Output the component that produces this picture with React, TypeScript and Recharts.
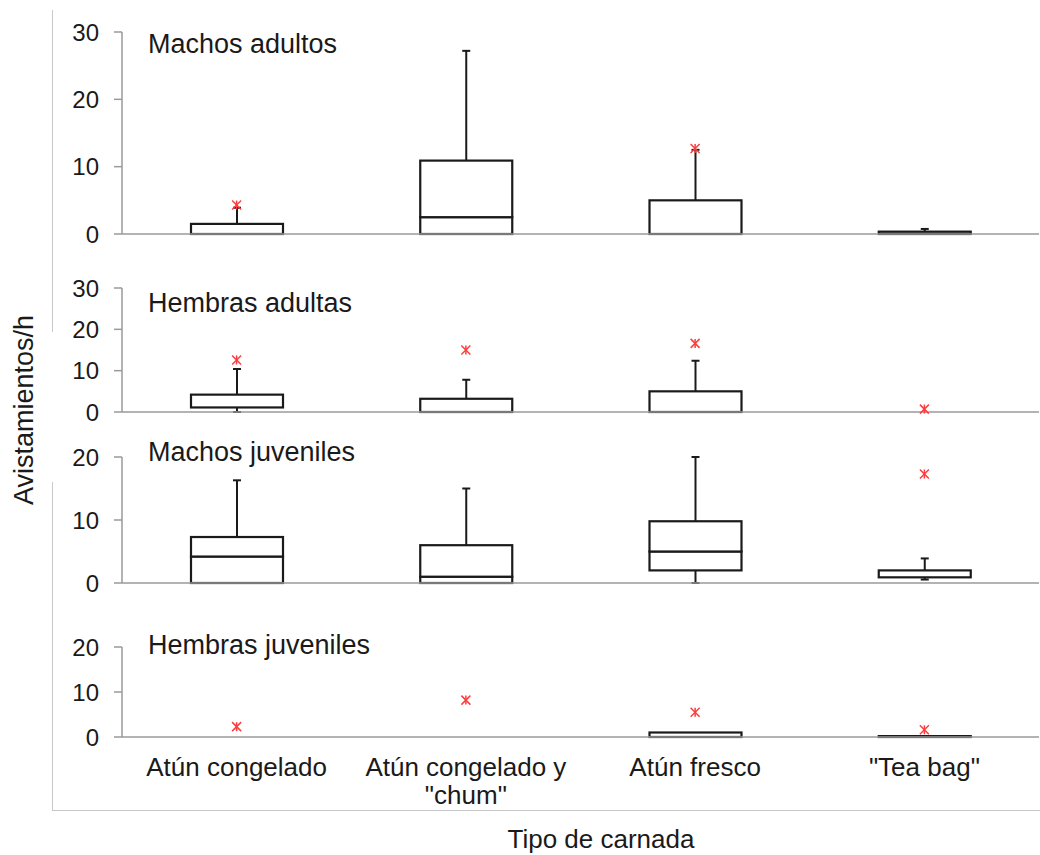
import React from "react"
import { ComposedChart, Bar, Line, XAxis, YAxis } from "recharts"

// bait types (x categories)
const categories = ["Atún congelado", 'Atún congelado y "chum"', "Atún fresco", '"Tea bag"']

// Machos adultos
const maMin = [0, 0, 0, 0]
const maQ1 = [0, 0, 0, 0]
const maMed = [0, 2.5, 0, 0]
const maQ3 = [1.5, 10.9, 5.0, 0.35]
const maMax = [3.9, 27.2, 12.5, 0.75]
const maOut = [4.3, null, 12.7, null]

// Hembras adultas
const haMin = [0, 0, 0, null]
const haQ1 = [1.1, 0, 0, null]
const haMed = [1.1, 0, 0, null]
const haQ3 = [4.2, 3.2, 5.0, null]
const haMax = [10.4, 7.8, 12.4, null]
const haOut = [12.6, 15.0, 16.6, 0.7]

// Machos juveniles
const mjMin = [0, 0, 0, 0.55]
const mjQ1 = [0, 0, 2.0, 0.9]
const mjMed = [4.2, 1.0, 5.0, 0.9]
const mjQ3 = [7.3, 6.0, 9.8, 2.0]
const mjMax = [16.3, 15.0, 20.0, 3.9]
const mjOut = [null, null, null, 17.3]

// Hembras juveniles
const hjMin = [null, null, 0, 0]
const hjQ1 = [null, null, 0, 0]
const hjMed = [null, null, 0, 0]
const hjQ3 = [null, null, 1.0, 0.2]
const hjMax = [null, null, 1.0, 0.2]
const hjOut = [2.3, 8.2, 5.5, 1.6]

const ticks30 = [0, 10, 20, 30]
const ticks20 = [0, 10, 20]

type N = number | null

// turn the five-number summaries into stacked segments
const buildRows = (mn: N[], q1: N[], md: N[], q3: N[], mx: N[], out: N[]) =>
  categories.map((cat, i) => {
    const has = mn[i] != null
    return {
      cat,
      has,
      base: has ? (mn[i] as number) : 0,
      lowW: has ? (q1[i] as number) - (mn[i] as number) : 0,
      boxLo: has ? (md[i] as number) - (q1[i] as number) : 0,
      boxHi: has ? (q3[i] as number) - (md[i] as number) : 0,
      highW: has ? (mx[i] as number) - (q3[i] as number) : 0,
      out: out[i],
    }
  })

const LINE = "#1a1a1a"
const AXIS = "#9a9a9a"
const FONT = "'Liberation Sans', Arial, sans-serif"

const Empty = () => <g />

const BoxShape = (props: any) => {
  const { x, y, width, height, payload } = props
  if (!payload || !payload.has) return <g />
  return (
    <rect x={x} y={y} width={width} height={Math.max(height, 0)} fill="#fff" stroke={LINE} strokeWidth={2.2} />
  )
}

const LowWhisker = (props: any) => {
  const { x, y, width, height, payload } = props
  if (!payload || !payload.has || !(height > 0)) return <g />
  const cx = x + width / 2
  return (
    <g stroke={LINE} strokeWidth={2}>
      <line x1={cx} x2={cx} y1={y} y2={y + height} />
      <line x1={cx - 4} x2={cx + 4} y1={y + height} y2={y + height} />
    </g>
  )
}

const HighWhisker = (props: any) => {
  const { x, y, width, height, payload } = props
  if (!payload || !payload.has || !(height > 0)) return <g />
  const cx = x + width / 2
  return (
    <g stroke={LINE} strokeWidth={2}>
      <line x1={cx} x2={cx} y1={y} y2={y + height} />
      <line x1={cx - 4} x2={cx + 4} y1={y} y2={y} />
    </g>
  )
}

const Star = (props: any) => {
  const { cx, cy, value, index } = props
  if (value == null || cy == null) return <g key={`s${index}`} />
  const r = 4.5
  return (
    <g key={`s${index}`} stroke="#ff3b3b" strokeWidth={1.5}>
      <line x1={cx - r} y1={cy - r} x2={cx + r} y2={cy + r} />
      <line x1={cx - r} y1={cy + r} x2={cx + r} y2={cy - r} />
      <line x1={cx} y1={cy - r} x2={cx} y2={cy + r} />
    </g>
  )
}

const CatTick = (props: any) => {
  const { x, y, payload } = props
  const v: string = payload.value
  const lines = v.endsWith('"chum"') ? ["Atún congelado y", '"chum"'] : [v]
  return (
    <text x={x} y={y} textAnchor="middle" fill="#1a1a1a" fontSize={26} fontFamily={FONT}>
      {lines.map((l, i) => (
        <tspan key={i} x={x} dy={i === 0 ? 39 : 28}>
          {l}
        </tspan>
      ))}
    </text>
  )
}

interface PanelProps {
  rows: ReturnType<typeof buildRows>
  top: number
  height: number
  mTop: number
  mBottom: number
  max: number
  ticks: number[]
  showX?: boolean
}

const Panel = ({ rows, top, height, mTop, mBottom, max, ticks, showX }: PanelProps) => (
  <div style={{ position: "absolute", left: 0, top, width: 1040, height }}>
    <ComposedChart
      width={1040}
      height={height}
      data={rows}
      margin={{ top: mTop, right: 1, bottom: mBottom, left: 52 }}
    >
      <XAxis
        dataKey="cat"
        type="category"
        height={showX ? 73 : 1}
        axisLine={{ stroke: AXIS, strokeWidth: 1.5 }}
        tickLine={false}
        tickSize={0}
        tickMargin={0}
        tick={showX ? <CatTick /> : false}
        interval={0}
      />
      <YAxis
        type="number"
        domain={[0, max]}
        ticks={ticks}
        interval={0}
        width={70}
        tickSize={8}
        tickMargin={15}
        axisLine={{ stroke: AXIS, strokeWidth: 1.5 }}
        tickLine={{ stroke: AXIS, strokeWidth: 1.5 }}
        tick={{ fill: "#1a1a1a", fontSize: 24, fontFamily: FONT }}
      />
      <Bar dataKey="base" stackId="b" barSize={92} shape={<Empty />} isAnimationActive={false} />
      <Bar dataKey="lowW" stackId="b" barSize={92} shape={<LowWhisker />} isAnimationActive={false} />
      <Bar dataKey="boxLo" stackId="b" barSize={92} shape={<BoxShape />} isAnimationActive={false} />
      <Bar dataKey="boxHi" stackId="b" barSize={92} shape={<BoxShape />} isAnimationActive={false} />
      <Bar dataKey="highW" stackId="b" barSize={92} shape={<HighWhisker />} isAnimationActive={false} />
      <Line dataKey="out" stroke="none" dot={Star} activeDot={false} isAnimationActive={false} />
    </ComposedChart>
  </div>
)

const titleStyle = (top: number): React.CSSProperties => ({
  position: "absolute",
  left: 148,
  top,
  fontSize: 27,
  lineHeight: "27px",
  color: "#1a1a1a",
  whiteSpace: "nowrap",
})

const App = () => {
  const maRows = buildRows(maMin, maQ1, maMed, maQ3, maMax, maOut)
  const haRows = buildRows(haMin, haQ1, haMed, haQ3, haMax, haOut)
  const mjRows = buildRows(mjMin, mjQ1, mjMed, mjQ3, mjMax, mjOut)
  const hjRows = buildRows(hjMin, hjQ1, hjMed, hjQ3, hjMax, hjOut)

  return (
    <div
      style={{
        position: "absolute",
        left: 0,
        top: 0,
        width: 1040,
        height: 855,
        background: "#fff",
        fontFamily: FONT,
        overflow: "hidden",
      }}
    >
      {/* outer frame */}
      <div style={{ position: "absolute", left: 52, top: 10, width: 1, height: 322, background: "#c8c8c8" }} />
      <div style={{ position: "absolute", left: 52, top: 482, width: 1, height: 328, background: "#c8c8c8" }} />
      <div style={{ position: "absolute", left: 52, top: 810, width: 988, height: 1, background: "#c8c8c8" }} />

      <Panel rows={maRows} top={0} height={250} mTop={32} mBottom={15} max={30} ticks={ticks30} />
      <Panel rows={haRows} top={250} height={180} mTop={38} mBottom={17} max={30} ticks={ticks30} />
      <Panel rows={mjRows} top={420} height={180} mTop={37} mBottom={16} max={20} ticks={ticks20} />
      <Panel rows={hjRows} top={600} height={210} mTop={47} mBottom={0} max={20} ticks={ticks20} showX />

      <div style={titleStyle(31)}>Machos adultos</div>
      <div style={titleStyle(290)}>Hembras adultas</div>
      <div style={titleStyle(439)}>Machos juveniles</div>
      <div style={titleStyle(632)}>Hembras juveniles</div>

      <div
        style={{
          position: "absolute",
          left: 24,
          top: 410,
          fontSize: 27,
          lineHeight: "27px",
          color: "#1a1a1a",
          whiteSpace: "nowrap",
          transform: "translate(-50%, -50%) rotate(-90deg)",
        }}
      >
        Avistamientos/h
      </div>
      <div
        style={{
          position: "absolute",
          left: 601,
          top: 826,
          fontSize: 26,
          lineHeight: "26px",
          color: "#1a1a1a",
          whiteSpace: "nowrap",
          transform: "translateX(-50%)",
        }}
      >
        Tipo de carnada
      </div>
    </div>
  )
}

export default App
